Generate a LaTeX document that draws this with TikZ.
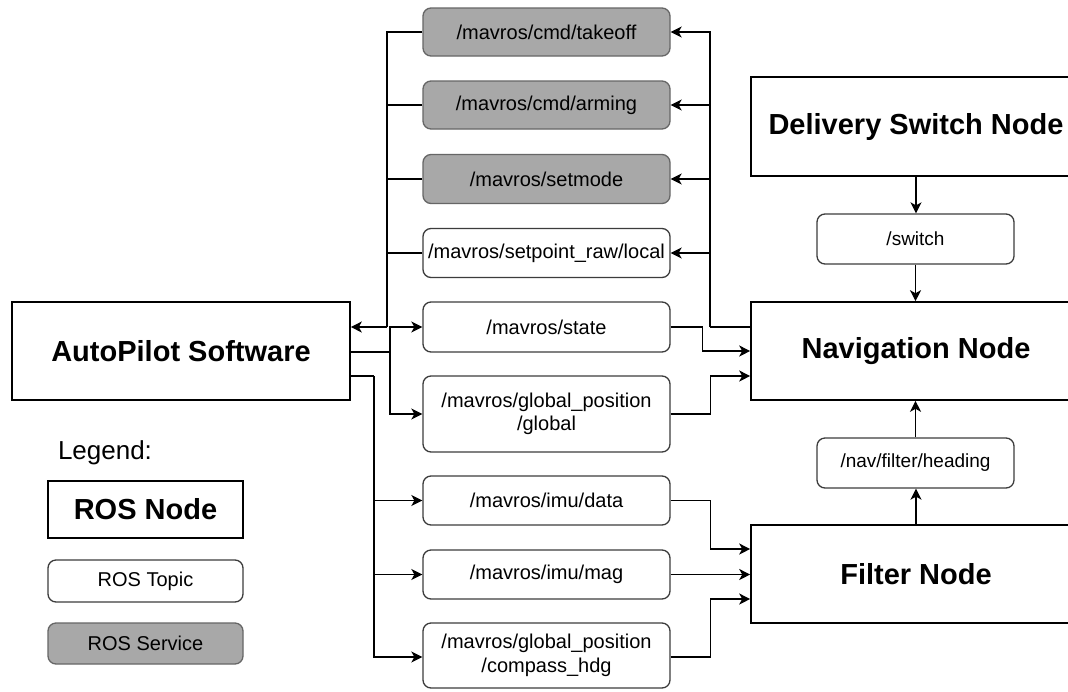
\documentclass[tikz,border=0pt]{standalone}
\usepackage{fontspec}
\setmainfont{Liberation Sans}
\usetikzlibrary{arrows.meta}
\definecolor{svcgray}{RGB}{168,168,168}
\definecolor{topicborder}{RGB}{60,60,60}
\tikzset{
  rosnode/.style={draw=black, line width=1.6pt, fill=white, inner sep=0pt,
    font=\fontsize{29}{31}\selectfont\bfseries, align=center},
  topic/.style={draw=topicborder, line width=1.3pt, fill=white, rounded corners=8pt,
    inner sep=0pt, minimum width=247pt, font=\fontsize{20}{23.5}\selectfont, align=center},
  service/.style={topic, fill=svcgray, draw=gray!80!black},
  conn/.style={draw=black, line width=1.4pt},
  arr/.style={conn, -{Stealth[length=11pt,width=11pt,inset=3pt]}}
}
\begin{document}
\begin{tikzpicture}[x=1pt,y=-1pt]
\clip (0,0) rectangle (1068,691);
\fill[white] (0,0) rectangle (1068,691);

% ROS nodes
\node[rosnode, minimum width=338pt, minimum height=98pt] (auto) at (181,351) {AutoPilot Software};
\node[rosnode, minimum width=330pt, minimum height=98pt] (nav) at (916,351) {Navigation Node};
\node[rosnode, minimum width=330pt, minimum height=99pt] (deliv) at (916,126.5) {Delivery Switch Node};
\node[rosnode, minimum width=330pt, minimum height=98pt] (filt) at (916,574) {Filter Node};

% services
\node[service, minimum height=48pt] (take) at (546.5,32) {/mavros/cmd/takeoff};
\node[service, minimum height=48pt] (arm) at (546.5,105) {/mavros/cmd/arming};
\node[service, minimum height=49pt] (mode) at (546.5,179) {/mavros/setmode};

% topics
\node[topic, minimum height=49pt] (setp) at (546.5,253) {/mavros/setpoint\_raw/local};
\node[topic, minimum height=50pt] (state) at (546.5,327) {/mavros/state};
\node[topic, minimum height=76pt] (glob) at (546.5,414) {/mavros/global\_position\\/global};
\node[topic, minimum height=49pt] (imud) at (546.5,500.5) {/mavros/imu/data};
\node[topic, minimum height=49pt] (imum) at (546.5,574.5) {/mavros/imu/mag};
\node[topic, minimum height=65pt] (comp) at (546.5,655.5) {/mavros/global\_position\\/compass\_hdg};
\node[topic, minimum width=197pt, minimum height=50pt, font=\fontsize{19}{22}\selectfont] (sw) at (915.5,239) {/switch};
\node[topic, minimum width=197pt, minimum height=50pt, font=\fontsize{19}{22}\selectfont] (head) at (915.5,463) {/nav/filter/heading};

% legend
\node[font=\fontsize{26}{29}\selectfont, inner sep=0pt] (leg) at (105,453) {Legend:};
\node[rosnode, minimum width=195pt, minimum height=57pt] (lnode) at (145.5,509.5) {ROS Node};
\node[topic, minimum width=195pt, minimum height=42pt] (ltopic) at (145.5,581) {ROS Topic};
\node[service, minimum width=195pt, minimum height=41pt] (lsvc) at (145.5,643.5) {ROS Service};

% bus coordinates
\coordinate (lbus) at (387,327);
\coordinate (rbus) at (710,327);
\coordinate (abus) at (390,352);
\coordinate (ibus) at (374,376);

% services/setpoint -> autopilot
\draw[conn] (take.west) -| (lbus);
\draw[conn] (arm.west) -- (arm.west -| lbus);
\draw[conn] (mode.west) -- (mode.west -| lbus);
\draw[conn] (setp.west) -- (setp.west -| lbus);
\draw[arr] (lbus) -- (auto.east |- lbus);

% navigation -> services/setpoint
\draw[conn] (nav.west |- rbus) -- (rbus);
\draw[arr] (rbus) |- (take.east);
\draw[arr] (arm.east -| rbus) -- (arm.east);
\draw[arr] (mode.east -| rbus) -- (mode.east);
\draw[arr] (setp.east -| rbus) -- (setp.east);

% autopilot -> state/global
\draw[conn] (auto.east |- abus) -- (abus);
\draw[arr] (abus) |- (state.west);
\draw[arr] (abus) |- (glob.west);

% autopilot -> imu/compass
\draw[conn] (auto.east |- ibus) -- (ibus);
\draw[arr] (ibus) |- (imud.west);
\draw[arr] (ibus) |- (imum.west);
\draw[arr] (ibus) |- ([yshift=-1.5pt]comp.west);

% state/global -> navigation
\draw[arr] (state.east) -- ++(32,0) |- (nav.west);
\draw[arr] (glob.east) -- ++(40,0) |- ([yshift=-25pt]nav.west);

% imu/compass -> filter
\draw[arr] (imud.east) -- ++(40,0) |- ([yshift=25pt]filt.west);
\draw[arr] (imum.east) -- (imum.east -| filt.west);
\draw[arr] ([yshift=-1.5pt]comp.east) -- ++(40,0) |- ([yshift=-25pt]filt.west);

% vertical flows
\draw[arr] (deliv.south) -- (deliv.south |- sw.north);
\draw[arr] (sw.south) -- (sw.south |- nav.north);
\draw[arr] (filt.north) -- (filt.north |- head.south);
\draw[arr] (head.north) -- (head.north |- nav.south);
\end{tikzpicture}
\end{document}
